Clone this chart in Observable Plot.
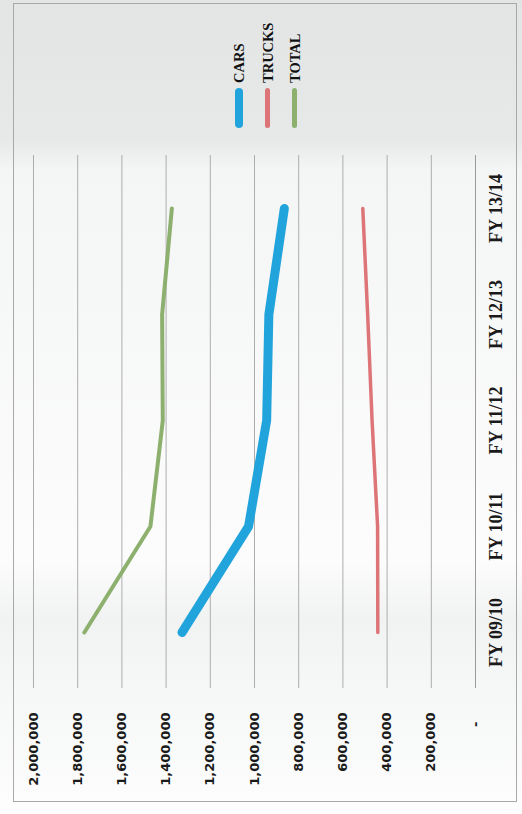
<!DOCTYPE html>
<html>
<head>
<meta charset="utf-8">
<script src="https://cdn.jsdelivr.net/npm/d3@7"></script>
<script src="https://cdn.jsdelivr.net/npm/@observablehq/plot@0.6"></script>
<style>
html, body { margin: 0; padding: 0; }
body {
  width: 522px; height: 814px; overflow: hidden; position: relative;
  background: linear-gradient(to bottom, #e3e5e5 0px, #e7e9e9 140px, #f4f5f5 170px, #fcfcfc 560px, #f1f2f2 620px, #f6f7f7 690px, #fdfdfd 814px);
}
#rot {
  position: absolute; left: 0; top: 0; width: 814px; height: 522px;
  transform-origin: 0 0; transform: translate(0px, 814px) rotate(-90deg);
}
#frame {
  position: absolute; left: 12px; top: 13px; width: 799px; height: 504px;
  border: 1px solid #a8a8a8; box-sizing: border-box;
}
#chart { position: absolute; left: 0; top: 0; }
.leg { position: absolute; left: 686px; height: 20px; display: flex; align-items: center; }
.leg .sw { width: 40px; border-radius: 4px; }
.leg .lb { margin-left: 5px; font-family: "Liberation Serif", serif; font-weight: bold; font-size: 14.5px; color: #111; line-height: 20px; }
</style>
</head>
<body>
<div id="rot">
  <div id="frame"></div>
  <div id="chart"></div>
</div>
<script>
const years = ["FY 09/10", "FY 10/11", "FY 11/12", "FY 12/13", "FY 13/14"];
const cars = [1328000, 1027000, 945000, 935000, 865000];
const trucks = [442000, 443000, 468000, 488000, 510000];
const total = [1770000, 1471000, 1415000, 1418000, 1374000];
const seriesNames = ["CARS", "TRUCKS", "TOTAL"];
const seriesColors = ["#21a4dc", "#dd7477", "#8db06f"];
const valueTicks = [0, 200000, 400000, 600000, 800000, 1000000, 1200000, 1400000, 1600000, 1800000, 2000000];

const seriesValues = [cars, trucks, total];
const lineWidths = [9, 3.5, 4];
const legendWidths = [8, 5, 5];
const legendCenters = [238.5, 267.5, 294.5];

const rows = seriesValues.map(vals => years.map((y, i) => ({year: y, value: vals[i]})));

const chart = Plot.plot({
  width: 814,
  height: 522,
  marginLeft: 126,
  marginRight: 155,
  marginTop: 33,
  marginBottom: 47,
  style: {background: "transparent", overflow: "visible"},
  x: {type: "point", domain: years, padding: 0.5, label: null},
  y: {domain: [0, 2000000], label: null},
  marks: [
    Plot.ruleY(valueTicks.filter(d => d > 0), {stroke: "#adadad", strokeWidth: 1}),
    Plot.ruleY([0], {stroke: "#9a9a9a", strokeWidth: 1}),
    Plot.axisY({
      ticks: valueTicks, tickSize: 0, tickPadding: 25,
      tickFormat: d => d === 0 ? "-\u00a0\u00a0" : d3.format(",")(d),
      fontFamily: "DejaVu Sans", fontSize: 13, fontWeight: "bold", fill: "#1a1a1a", label: null
    }),
    Plot.axisX({
      tickSize: 0, tickPadding: 14,
      fontFamily: "Liberation Serif", fontSize: 18, fontWeight: "bold", fill: "#1a1a1a", label: null
    }),
    ...[2, 1, 0].map(k => Plot.line(rows[k], {
      x: "year", y: "value", stroke: seriesColors[k], strokeWidth: lineWidths[k],
      strokeLinecap: "round", strokeLinejoin: "round"
    }))
  ]
});
document.getElementById("chart").appendChild(chart);

const rot = document.getElementById("rot");
seriesNames.forEach((name, k) => {
  const item = document.createElement("div");
  item.className = "leg";
  item.style.top = (legendCenters[k] - 10) + "px";
  const sw = document.createElement("div");
  sw.className = "sw";
  sw.style.height = legendWidths[k] + "px";
  sw.style.background = seriesColors[k];
  const lb = document.createElement("span");
  lb.className = "lb";
  lb.textContent = name;
  item.appendChild(sw);
  item.appendChild(lb);
  rot.appendChild(item);
});
</script>
</body>
</html>
